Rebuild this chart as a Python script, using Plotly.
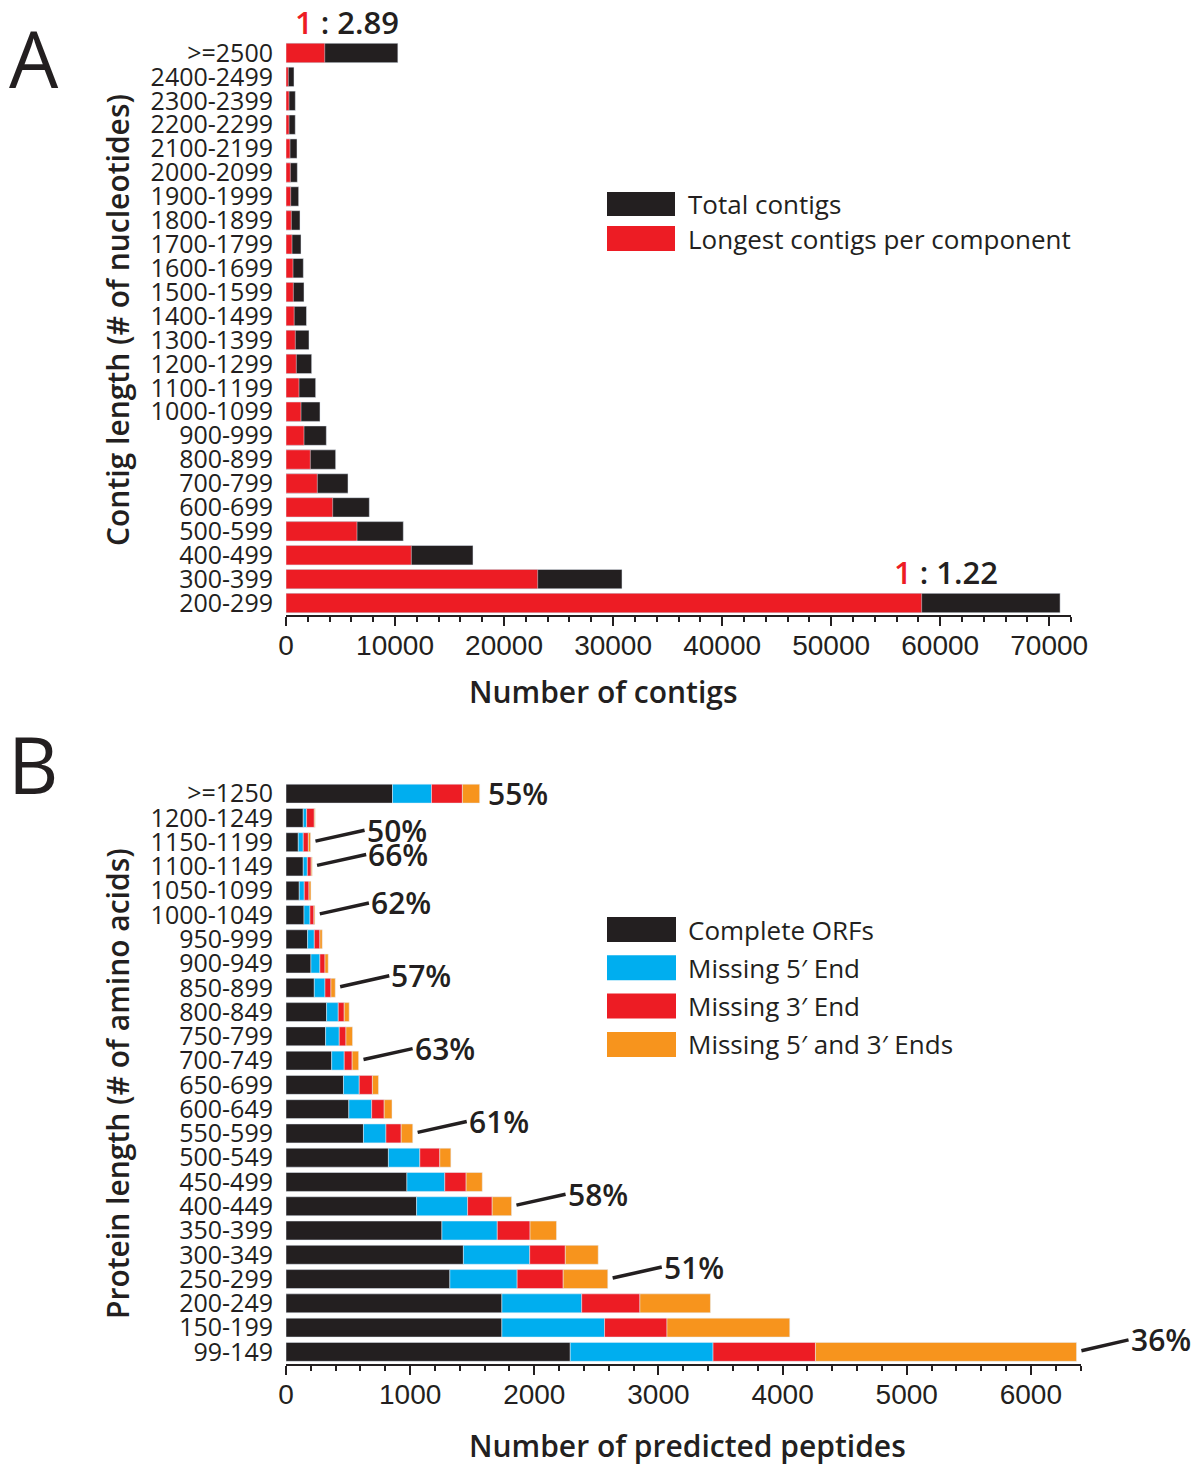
import plotly.graph_objects as go

OFF = 8                    # default page body margin
FW, FH = 1202 - OFF, 1464 - OFF   # figure reaches the window's right/bottom edges

# ---------------- Panel A data (top to bottom) ----------------
contig_bins = [">=2500", "2400-2499", "2300-2399", "2200-2299", "2100-2199", "2000-2099",
               "1900-1999", "1800-1899", "1700-1799", "1600-1699", "1500-1599", "1400-1499",
               "1300-1399", "1200-1299", "1100-1199", "1000-1099", "900-999", "800-899",
               "700-799", "600-699", "500-599", "400-499", "300-399", "200-299"]
total_contigs = [10260, 734, 856, 850, 1009, 1040, 1162, 1284, 1376, 1590, 1651, 1880,
                 2110, 2354, 2721, 3119, 3700, 4556, 5688, 7644, 10761, 17151, 30819, 71000]
longest_contigs = [3550, 214, 275, 280, 367, 397, 428, 489, 550, 642, 673, 750,
                   856, 948, 1193, 1376, 1651, 2232, 2874, 4280, 6512, 11495, 23083, 58300]

# ---------------- Panel B data (top to bottom) ----------------
protein_bins = [">=1250", "1200-1249", "1150-1199", "1100-1149", "1050-1099", "1000-1049",
                "950-999", "900-949", "850-899", "800-849", "750-799", "700-749",
                "650-699", "600-649", "550-599", "500-549", "450-499", "400-449",
                "350-399", "300-349", "250-299", "200-249", "150-199", "99-149"]
complete_orfs = [858, 139, 99, 139, 107, 145, 174, 201, 228, 327, 319, 368,
                 463, 506, 624, 825, 974, 1052, 1256, 1429, 1320, 1739, 1739, 2290]
missing_5 = [314, 27, 40, 33, 40, 48, 54, 72, 86, 94, 110, 101,
             127, 184, 181, 253, 305, 411, 446, 534, 542, 643, 827, 1150]
missing_3 = [249, 62, 41, 31, 38, 32, 45, 41, 48, 48, 54, 64,
             106, 101, 123, 161, 172, 198, 264, 287, 371, 469, 503, 825]
missing_53 = [139, 7, 18, 8, 16, 8, 19, 26, 35, 40, 53, 52,
              49, 63, 93, 89, 130, 156, 213, 265, 359, 568, 989, 2103]
labelled_bins = [">=1250", "1150-1199", "1100-1149", "1000-1049", "850-899",
                 "700-749", "550-599", "400-449", "250-299", "99-149"]

INK = "#231f20"
RED = "#ed1c24"
BLUE = "#00aeef"
ORANGE = "#f7941d"
TXT = "Open Sans, Noto Sans, sans-serif"
NARROW = "Liberation Sans Narrow, Arial Narrow, sans-serif"


def px(x):
    return (x - OFF) / FW


def py(y):
    return 1 - (y - OFF) / FH


fig = go.Figure()

# Panel A: total (black) with longest (red) overlaid
fig.add_trace(go.Bar(y=contig_bins, x=total_contigs, orientation="h", marker_color=INK,
                     width=0.81, xaxis="x", yaxis="y", name="Total contigs", showlegend=False))
fig.add_trace(go.Bar(y=contig_bins, x=longest_contigs, orientation="h", marker_color=RED,
                     width=0.81, xaxis="x", yaxis="y", name="Longest contigs per component",
                     showlegend=False))

# Panel B: stacked segments via cumulative bases
segs = [(complete_orfs, INK, "Complete ORFs"), (missing_5, BLUE, "Missing 5\u2032 End"),
        (missing_3, RED, "Missing 3\u2032 End"), (missing_53, ORANGE, "Missing 5\u2032 and 3\u2032 Ends")]
base = [0] * len(protein_bins)
for vals, col, nm in segs:
    fig.add_trace(go.Bar(y=protein_bins, x=vals, base=list(base), orientation="h",
                         marker_color=col, width=0.78, xaxis="x2", yaxis="y2",
                         name=nm, showlegend=False))
    base = [b + v for b, v in zip(base, vals)]
totals_b = base

tickfont = dict(family=NARROW, size=28, color=INK)
catfont = dict(family=TXT, size=25, color=INK)

common_x = dict(showgrid=False, zeroline=False, showline=True, linecolor=INK, linewidth=2,
                ticks="outside", ticklen=9, tickwidth=2, tickcolor=INK, tickformat="d",
                tickfont=tickfont, ticklabelstandoff=-5, automargin=False)
common_y = dict(type="category", showgrid=False, zeroline=False, showline=False, ticks="",
                tickmode="linear", tick0=0, dtick=1, ticklabelstandoff=12, tickfont=catfont,
                automargin=False)

fig.update_layout(
    width=FW, height=FH, barmode="overlay", plot_bgcolor="white", paper_bgcolor="white",
    margin=dict(l=0, r=0, t=0, b=0, pad=0, autoexpand=False),
    xaxis=dict(domain=[px(286), px(1071)], range=[0, 72000], anchor="y", dtick=10000,
               minor=dict(dtick=2000, ticks="outside", ticklen=5, tickwidth=1.5, tickcolor=INK),
               **common_x),
    yaxis=dict(domain=[py(615), py(41)], range=[23.5, -0.5], anchor="x",
               categoryorder="array", categoryarray=contig_bins, **common_y),
    xaxis2=dict(domain=[px(286), px(1080.5)], range=[0, 6400], anchor="y2", dtick=1000,
                minor=dict(dtick=200, ticks="outside", ticklen=5, tickwidth=1.5, tickcolor=INK),
                **common_x),
    yaxis2=dict(domain=[py(1364), py(781.5)], range=[23.5, -0.5], anchor="x2",
                categoryorder="array", categoryarray=protein_bins, **common_y),
)


def paper_text(text, x, y, font, **kw):
    d = dict(text=text, x=px(x), y=py(y), xref="paper", yref="paper", showarrow=False,
             xanchor="center", yanchor="middle", font=font)
    d.update(kw)
    return d


ann = []
# Panel letters
letter = dict(family=TXT, size=78, color=INK)
ann.append(paper_text("A", 34, 58, letter))
ann.append(paper_text("B", 33, 764, letter))
# Axis titles
bold = dict(family=TXT, size=30, color=INK, weight=600)
ann.append(paper_text("Number of contigs", 603, 691, bold))
ann.append(paper_text("Number of predicted peptides", 688, 1445, bold))
ann.append(paper_text("Contig length (# of nucleotides)", 117, 320, bold, textangle=-90))
ann.append(paper_text("Protein length (# of amino acids)", 117, 1084, bold, textangle=-90))

# Ratio annotations in panel A
ratio_font = dict(family=TXT, size=31, color=INK, weight=600)
first, last = 0, len(contig_bins) - 1
for idx, xpos, shift in ((first, total_contigs[first] / 2, 5), (last, longest_contigs[last], 24)):
    r = total_contigs[idx] / longest_contigs[idx]
    txt = f"<span style='color:{RED}'>1</span> : {r:.2f}"
    ann.append(dict(text=txt, x=xpos, y=contig_bins[idx], xref="x", yref="y", showarrow=False,
                    xanchor="center", yanchor="middle", xshift=shift, yshift=31,
                    font=ratio_font))

# Percent complete annotations in panel B
pct_font = dict(family=TXT, size=30, color=INK, weight=600)
for b in labelled_bins:
    i = protein_bins.index(b)
    pct = round(100 * complete_orfs[i] / totals_b[i])
    if i == 0:
        ann.append(dict(text=f"{pct}%", x=totals_b[i], y=b, xref="x2", yref="y2",
                        showarrow=False, xanchor="left", yanchor="middle", xshift=6,
                        font=pct_font))
    else:
        reach = 52 if i == len(protein_bins) - 1 else 54
        ann.append(dict(text=f"{pct}%", x=totals_b[i], y=b, xref="x2", yref="y2",
                        showarrow=True, arrowhead=0, arrowwidth=3.5, arrowcolor=INK,
                        ax=reach, ay=-12, standoff=5, xanchor="left", yanchor="middle",
                        font=pct_font))

# Legends (swatches + text)
leg_font = dict(family=TXT, size=26, color=INK)
shapes = []
for (top, bot), col, label in [((192, 216), INK, "Total contigs"),
                               ((226, 251), RED, "Longest contigs per component")]:
    shapes.append(dict(type="rect", xref="paper", yref="paper", x0=px(607), x1=px(675),
                       y0=py(bot), y1=py(top), fillcolor=col, line=dict(width=0)))
    ann.append(paper_text(label, 686, (top + bot) / 2, leg_font, xanchor="left"))
for k, (vals, col, label) in enumerate(segs):
    top = 917 + 38.3 * k
    bot = top + 25
    shapes.append(dict(type="rect", xref="paper", yref="paper", x0=px(607), x1=px(676),
                       y0=py(bot), y1=py(top), fillcolor=col, line=dict(width=0)))
    ann.append(paper_text(label, 686, (top + bot) / 2, leg_font, xanchor="left"))

fig.update_layout(annotations=ann, shapes=shapes)
fig.write_html("out.html")
